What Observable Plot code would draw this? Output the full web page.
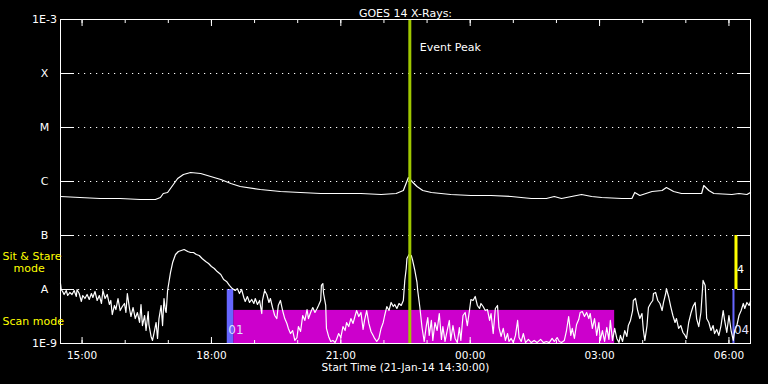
<!DOCTYPE html>
<html><head><meta charset="utf-8">
<script src="https://cdn.jsdelivr.net/npm/d3@7"></script>
<script src="https://cdn.jsdelivr.net/npm/@observablehq/plot@0.6"></script>
<style>html,body{margin:0;padding:0;background:#000;} #chart{width:768px;height:384px;}</style>
</head><body><div id="chart"></div>
<script>
// Time axis: 21-Jan-2014 14:30 UTC to 22-Jan-2014 06:30 UTC; samples are minutes after start
const startUTC = Date.UTC(2014, 0, 21, 14, 30);
const endUTC = Date.UTC(2014, 0, 22, 6, 30);
const NANO = 1e-9; // flux arrays are in units of 1e-9 W/m^2

// GOES 14 long channel (1-8 A)
const longMin = [0,27,55,83,111,132,139,143,149,156,163,171,181,195,209,223,237,250,278,306,334,362,390,418,446,467,477,484,489,496,504,516,543,571,599,627,655,676,687,697,725,739,753,781,795,799,806,823,837,843,853,864,892,895,902,909,934,944,955,960];
const longFlux = [527,506,484,484,464,464,506,600,626,843,1136,1348,1468,1406,1237,1089,918,808,711,653,626,600,600,600,574,600,681,1186,1000,808,681,626,574,551,551,527,484,484,527,484,574,527,506,484,484,626,551,653,681,774,653,600,600,843,681,600,574,600,574,626];

// GOES 14 short channel (0.5-4 A)
const shortMin = [0,1,3,5,8,10,13,16,19,22,23,26,29,31,34,37,40,43,45,48,
51,54,57,59,62,65,68,70,72,75,77,80,83,86,89,91,93,96,98,101,
104,107,110,112,114,117,119,122,123,126,128,130,133,135,137,140,142,144,146,147,
149,153,156,160,164,168,172,177,181,185,189,193,197,202,206,210,214,218,223,227,
231,235,239,243,246,249,252,255,257,260,263,266,269,271,274,277,280,281,284,287,
290,292,295,298,301,303,306,309,312,315,317,320,323,326,329,331,334,337,340,343,
345,348,351,354,357,359,362,363,365,366,369,370,373,376,379,382,384,387,390,393,
396,398,401,404,407,410,412,415,418,421,423,426,429,432,435,437,440,443,446,449,
451,454,457,460,463,465,468,471,474,477,478,479,481,482,485,488,490,493,496,497,
500,503,506,509,511,513,516,518,521,524,527,530,532,535,538,541,543,546,549,552,
555,557,560,563,566,569,571,574,577,580,583,585,588,591,594,597,599,602,605,608,
610,613,616,619,622,624,627,630,633,636,638,641,644,647,651,655,659,663,668,672,
676,680,684,687,691,694,697,701,704,707,710,712,715,718,721,723,726,729,732,735,
737,740,743,746,749,751,754,757,760,763,765,768,771,774,777,779,782,785,788,790,
793,796,797,800,803,806,809,811,813,816,818,821,824,825,828,831,834,837,839,842,
843,846,849,852,855,857,860,863,866,869,871,874,877,880,883,885,888,891,894,897,
899,902,905,908,910,913,916,919,922,924,927,930,933,936,938,941,944,947,950,952,
955,958,960];
const shortFlux = [12.9,10.0,9.18,8.08,9.58,7.74,8.80,8.08,9.58,7.42,10.0,8.43,6.00,7.74,6.81,8.08,6.53,8.43,7.11,9.18,
6.26,7.74,5.51,9.58,6.81,8.08,5.28,6.26,3.44,5.06,4.26,6.81,4.08,4.84,5.51,3.75,8.43,4.45,3.16,4.64,
2.90,3.75,2.45,5.28,2.15,3.30,1.74,3.91,2.25,1.35,1.14,1.53,2.45,1.24,2.90,5.06,2.15,6.81,4.08,3.75,
9.58,20.6,31.6,44.5,50.6,52.8,55.1,50.6,48.4,48.4,44.5,42.6,37.5,33.0,30.3,26.7,24.5,21.5,19.0,15.3,
14.1,11.9,10.4,9.58,10.4,8.43,10.0,7.11,6.00,7.42,5.75,6.53,5.51,6.81,5.28,6.26,3.59,6.26,9.58,8.08,
5.75,6.81,4.64,3.30,2.90,5.06,6.26,4.08,2.90,2.35,1.90,1.53,1.74,1.14,1.29,2.06,1.67,3.30,2.67,4.26,
2.90,3.75,4.64,3.75,4.45,5.06,6.26,11.9,12.9,8.43,5.06,1.90,1.35,1.09,1.14,1.04,1.19,1.53,1.29,2.06,
1.74,2.45,2.06,2.90,2.35,3.30,4.08,3.16,3.75,1.82,2.67,4.08,2.35,1.67,1.41,1.24,1.09,1.24,1.90,2.45,
3.30,4.84,4.08,5.75,4.84,5.28,4.45,5.51,5.06,6.26,9.58,14.7,24.5,37.5,44.5,42.6,34.4,22.5,13.5,9.58,
4.64,1.98,1.09,2.15,3.03,1.41,2.67,1.14,2.45,1.74,3.59,1.19,2.06,1.09,1.74,2.67,1.14,2.15,1.24,1.04,
1.98,1.14,3.30,3.75,2.15,4.08,6.53,6.26,7.42,5.06,4.45,5.51,4.84,4.08,4.26,2.67,3.59,1.53,4.45,5.06,
1.98,1.35,1.90,1.14,1.53,1.09,1.24,1.04,1.41,2.67,1.29,1.09,1.53,1.04,1.19,1.04,1.14,1.04,1.19,1.04,
1.09,1.04,1.24,1.09,1.29,1.09,1.04,1.14,1.74,3.16,1.41,1.90,1.24,2.25,2.78,3.75,3.91,3.16,3.75,2.90,
3.59,1.90,2.90,1.41,2.45,1.14,1.74,1.09,1.98,1.19,2.67,1.14,1.90,1.24,1.04,1.41,1.09,1.74,1.35,2.15,
2.67,4.08,6.26,6.81,4.08,2.90,3.59,1.74,1.14,2.15,4.64,5.51,6.26,8.43,8.80,6.26,5.51,4.08,5.75,8.43,
10.4,7.42,4.84,3.30,2.45,2.90,1.90,2.15,1.60,1.41,1.24,2.45,3.59,4.84,5.75,2.90,2.06,3.75,14.7,11.9,
2.90,2.45,1.74,2.15,1.53,1.82,1.41,2.15,4.08,2.67,1.60,3.30,1.74,1.14,1.74,2.15,3.30,4.08,5.51,4.45,
5.75,5.06,6.00];

// Axis ticks and labels
const yTickValues = [1e-9, 1e-8, 1e-7, 1e-6, 1e-5, 1e-4, 1e-3];
const yTickLabels = ["1E-9", "A", "B", "C", "M", "X", "1E-3"];
const gridLevels = [1e-8, 1e-7, 1e-6, 1e-5, 1e-4];
const xTickTimes = ["2014-01-21T15:00Z","2014-01-21T18:00Z","2014-01-21T21:00Z","2014-01-22T00:00Z","2014-01-22T03:00Z","2014-01-22T06:00Z"];
const xTickLabels = ["15:00", "18:00", "21:00", "00:00", "03:00", "06:00"];

// Event & observing mode annotations (minutes after start)
const eventPeakMin = 486;
const scanModeMin = [241, 771];
const scanModeBand = [1e-9, 4.1e-9];
const obsStartMin = [[232, 241], [935.6, 938.4]];
const obsStartLabels = ["01", "04"];
const obsBand = [1e-9, 1e-8];
const sitStareMin = [938.4, 942.6];
const sitStareBand = [1e-8, 1e-7];

const toDate = m => new Date(startUTC + m * 60000);
const longData = longMin.map((m, i) => ({t: toDate(m), v: longFlux[i] * NANO}));
const shortData = shortMin.map((m, i) => ({t: toDate(m), v: shortFlux[i] * NANO}));
const xLabelFor = new Map(xTickTimes.map((t, i) => [+new Date(t), xTickLabels[i]]));
const yLabelFor = new Map(yTickValues.map((v, i) => [v, yTickLabels[i]]));
const majorTicks = xTickTimes.map(t => new Date(t));
const minorTicks = d3.utcHour.range(new Date(startUTC), new Date(endUTC));

const scanRect = [{x1: toDate(scanModeMin[0]), x2: toDate(scanModeMin[1]), y1: scanModeBand[0], y2: scanModeBand[1]}];
const obsRects = obsStartMin.map(([a, b]) => ({x1: toDate(a), x2: toDate(b), y1: obsBand[0], y2: obsBand[1]}));
const sitRect = [{x1: toDate(sitStareMin[0]), x2: toDate(sitStareMin[1]), y1: sitStareBand[0], y2: sitStareBand[1]}];
const obsText = obsStartMin.map(([a], i) => ({t: toDate(a), label: obsStartLabels[i]}));

const chart = Plot.plot({
  width: 768, height: 384,
  marginLeft: 60, marginRight: 18, marginTop: 19, marginBottom: 41,
  style: {background: "black", color: "white", fontFamily: "'DejaVu Sans', sans-serif", fontSize: "11px"},
  x: {type: "utc", domain: [new Date(startUTC), new Date(endUTC)]},
  y: {type: "log", domain: [1e-9, 1e-3]},
  marks: [
    Plot.rect(scanRect, {x1: "x1", x2: "x2", y1: "y1", y2: "y2", fill: "#cc00cc"}),
    Plot.rect(obsRects, {x1: "x1", x2: "x2", y1: "y1", y2: "y2", fill: "#6666ff"}),
    Plot.rect(sitRect, {x1: "x1", x2: "x2", y1: "y1", y2: "y2", fill: "#ffff00"}),
    Plot.ruleY(gridLevels, {stroke: "white", strokeDasharray: "1.2,4.8", strokeWidth: 1.2}),
    Plot.line(longData, {x: "t", y: "v", stroke: "white", strokeWidth: 1.2}),
    Plot.line(shortData, {x: "t", y: "v", stroke: "white", strokeWidth: 1.2}),
    Plot.ruleX([toDate(eventPeakMin)], {stroke: "#9fc800", strokeWidth: 3}),
    Plot.text([toDate(eventPeakMin)], {x: d => d, frameAnchor: "top", dy: 23.5, dx: 10, textAnchor: "start", text: () => "Event Peak", fill: "white"}),
    Plot.text(obsText, {x: "t", frameAnchor: "bottom", dy: -10, dx: 1, textAnchor: "start", text: "label", fill: "#e0e0ff", fontSize: 12}),
    Plot.text([toDate(sitStareMin[0])], {x: d => d, frameAnchor: "bottom", dy: -71, dx: 2, textAnchor: "start", text: () => "4", fill: "white", fontSize: 11}),
    Plot.frame({stroke: "white"}),
    // axis tick marks (inward)
    Plot.axisX(minorTicks, {anchor: "bottom", tickSize: -3, tickFormat: () => "", label: null}),
    Plot.axisX(minorTicks, {anchor: "top", tickSize: -3, tickFormat: () => "", label: null}),
    Plot.axisX(majorTicks, {anchor: "bottom", tickSize: -6, tickFormat: () => "", label: null}),
    Plot.axisX(majorTicks, {anchor: "top", tickSize: -6, tickFormat: () => "", label: null}),
    Plot.axisX(majorTicks, {anchor: "bottom", tickSize: 0, tickPadding: 8, tickFormat: d => xLabelFor.get(+d), label: null, fontSize: 10.5}),
    Plot.axisY(yTickValues, {anchor: "left", tickSize: -14, tickFormat: () => "", label: null}),
    Plot.axisY(yTickValues, {anchor: "right", tickSize: -14, tickFormat: () => "", label: null}),
    Plot.axisY(yTickValues, {anchor: "left", tickSize: 0, tickPadding: 16, textAnchor: "middle", tickFormat: d => yLabelFor.get(d), label: null}),
    // titles and mode labels
    Plot.text(["GOES 14 X-Rays:"], {frameAnchor: "top", dy: -10, text: d => d, fill: "white"}),
    Plot.text(["Start Time (21-Jan-14 14:30:00)"], {frameAnchor: "bottom", dy: 27, text: d => d, fill: "white", fontSize: 10.5}),
    Plot.text(["Sit & Stare"], {frameAnchor: "bottom-left", dx: -58, dy: -83.5, textAnchor: "start", text: d => d, fill: "yellow"}),
    Plot.text(["mode"], {frameAnchor: "bottom-left", dx: -47, dy: -72, textAnchor: "start", text: d => d, fill: "yellow"}),
    Plot.text(["Scan mode"], {frameAnchor: "bottom-left", dx: -58, dy: -19, textAnchor: "start", text: d => d, fill: "yellow"})
  ]
});
document.getElementById("chart").appendChild(chart);
</script>
</body></html>
